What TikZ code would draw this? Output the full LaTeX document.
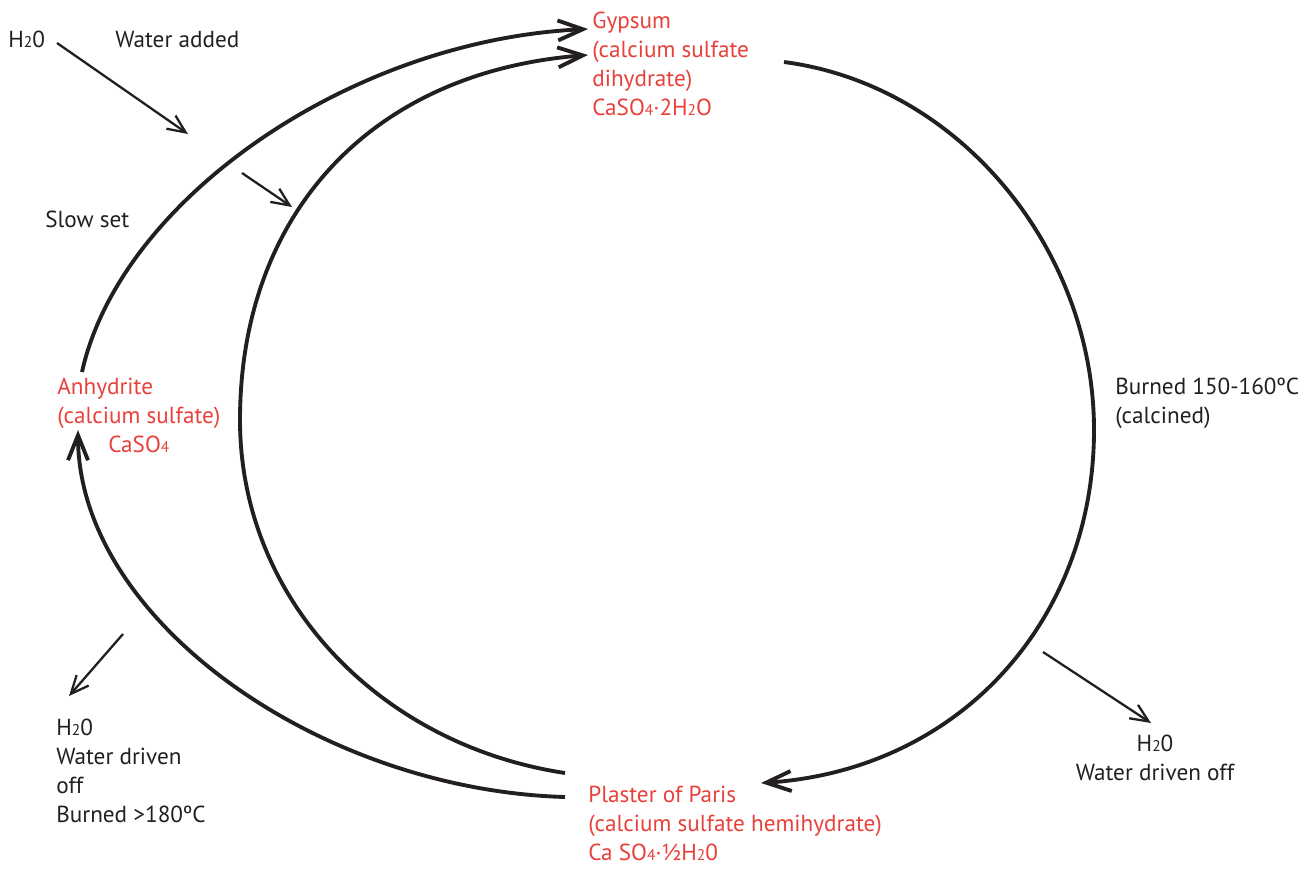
\documentclass[tikz,border=0pt]{standalone}
\usepackage{fontspec}
\setmainfont{PT Sans}
\usepackage{xcolor}
\usetikzlibrary{arrows.meta}
\definecolor{inkred}{HTML}{E8403A}
\definecolor{inkblack}{HTML}{231F20}
% small figures for the formulas
\newcommand{\sm}[1]{{\fontsize{8.8}{8}\selectfont #1}}
\tikzset{
	blk/.style={text=inkblack, inner sep=0pt, align=left, font=\fontsize{13.2}{16.4}\selectfont},
	redtxt/.style={blk, text=inkred},
	cyclearc/.style={line width=2.2pt, draw=inkblack, -{Straight Barb[length=5mm,width=4mm]}},
	water/.style={line width=1.3pt, draw=inkblack, -{Straight Barb[length=3.6mm,width=3.2mm]}}
}

\begin{document}
\begin{tikzpicture}[x=0.02cm, y=-0.02cm]
	\useasboundingbox (0,0) rectangle (1314,869);

	% Compounds (base = last line)
	\node[redtxt, anchor=base west] (gyp) at (592,115) {Gypsum\\(calcium sulfate\\dihydrate)\\CaSO\sm{4}·2H\sm{2}O};
	\node[redtxt, anchor=base west] (anh) at (57,452) {Anhydrite\\(calcium sulfate)\\\hspace*{1.02cm}CaSO\sm{4}};
	\node[redtxt, anchor=base west] (pop) at (588,860) {Plaster of Paris\\(calcium sulfate hemihydrate)\\Ca SO\sm{4}·½H\sm{2}0};

	% Labels
	\node[blk, anchor=base west] (h2oin) at (8,47) {H\sm{2}0};
	\node[blk, anchor=base west] (added) at (115,47) {Water added};
	\node[blk, anchor=base west] (slow) at (45,227) {Slow set};
	\node[blk, anchor=base west] (burn) at (1115,423) {Burned 150-160ºC\\(calcined)};
	\node[blk, align=center, anchor=base] (offR) at (1155,780) {H\sm{2}0\\Water driven off};
	\node[blk, anchor=base west] (offL) at (56,822) {H\sm{2}0\\Water driven\\off\\Burned >180ºC};

	% Arc ends
	\coordinate (gypTop) at (588,29);
	\coordinate (gypMid) at (588,55);
	\coordinate (gypOut) at (784,62);
	\coordinate (popIn) at (761,783);
	\coordinate (popUp) at (565,773);
	\coordinate (popLow) at (565,797);
	\coordinate (anhIn) at (78,430);
	\coordinate (anhOut) at (82,372);

	% Cycle
	\draw[cyclearc] (gypOut) .. controls (960,85) and (1094,250) .. (1094,430)
		.. controls (1094,620) and (960,770) .. (popIn);
	\draw[cyclearc] (popUp) .. controls (380,745) and (240,600) .. (240,420)
		.. controls (240,215) and (370,72) .. (gypMid);
	\draw[cyclearc] (popLow) .. controls (320,790) and (78,620) .. (anhIn);
	\draw[cyclearc] (anhOut) .. controls (120,200) and (350,40) .. (gypTop);

	% Water in and out
	\coordinate (addA) at (57,43);
	\coordinate (addAt) at (188,134);
	\coordinate (addB) at (242,173);
	\coordinate (addBt) at (292,207);
	\coordinate (lossL) at (123,634);
	\coordinate (lossLt) at (69,696);
	\coordinate (lossR) at (1043,652);
	\coordinate (lossRt) at (1151,723);
	\draw[water] (addA) -- (addAt);
	\draw[water] (addB) -- (addBt);
	\draw[water] (lossL) -- (lossLt);
	\draw[water] (lossR) -- (lossRt);
\end{tikzpicture}
\end{document}
